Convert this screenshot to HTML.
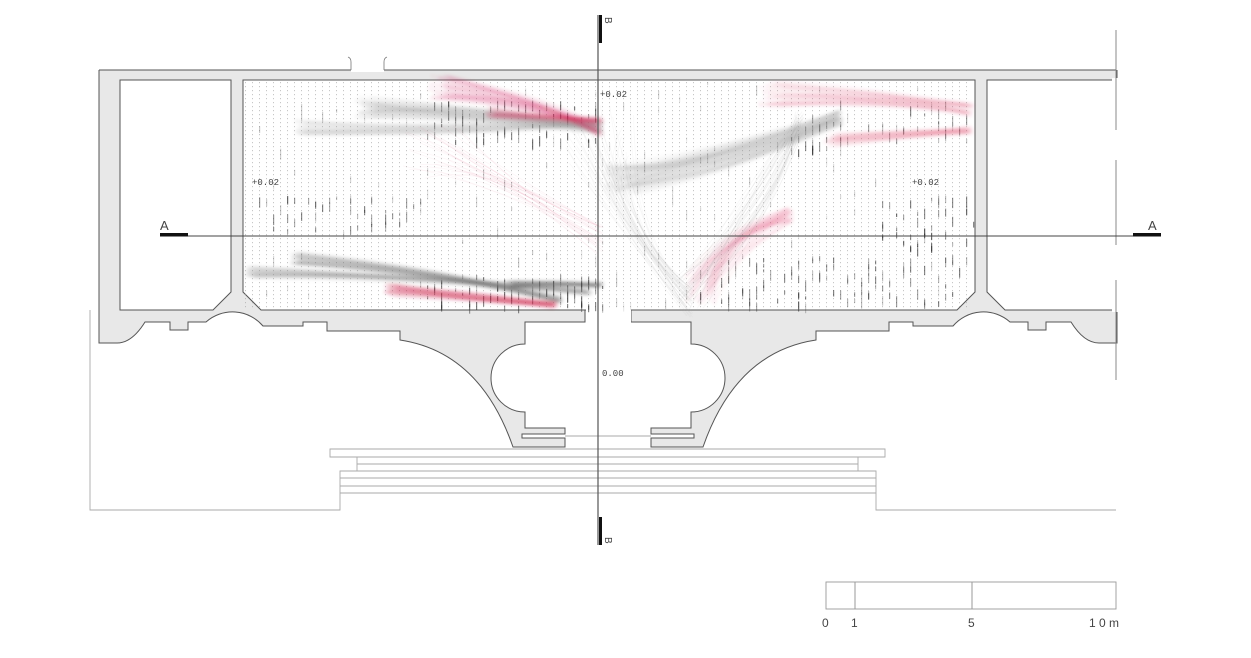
<!DOCTYPE html>
<html><head><meta charset="utf-8">
<style>
html,body{margin:0;padding:0;background:#fff;}
svg{display:block;}
text{font-family:"Liberation Mono",monospace;fill:#444;}
</style></head>
<body>
<svg id="s" width="1251" height="658" viewBox="0 0 1251 658" xmlns="http://www.w3.org/2000/svg">
<defs>
<pattern id="dots" x="245" y="82" width="7" height="4" patternUnits="userSpaceOnUse">
<rect x="0" y="0" width="1" height="1.2" fill="#9a9a9a"/>
</pattern>
<filter id="bl" x="-10%" y="-50%" width="120%" height="200%"><feGaussianBlur stdDeviation="1.6"/></filter>
<g id="half">
<path d="M99,70 L608,70 L608,310 L585,310 L585,322 L525,322 L525,344 A34,34 0 0 0 525,412 L525,428 L565,428 L565,434 L522,434 L522,438 L565,438 L565,447 L513,447 Q480,352 400,340 L400,331 L327,331 L327,322 L303,322 L303,326 L263,326 A40,40 0 0 0 206,322 L188,322 L188,330 L170,330 L170,322 L145,322 Q132,343 117,343 L99,343 Z" fill="#e8e8e8"/>
<path d="M99,70 L99,343 L117,343 Q132,343 145,322 L170,322 L170,330 L188,330 L188,322 L206,322 A40,40 0 0 1 263,326 L303,326 L303,322 L327,322 L327,331 L400,331 L400,340 Q480,352 513,447 L565,447 L565,438 L522,438 L522,434 L565,434 L565,428 L525,428 L525,412 A34,34 0 0 1 525,344 L525,322 L585,322 L585,310" fill="none" stroke="#555" stroke-width="1"/>
</g>
</defs>
<use href="#half"/>
<use href="#half" transform="translate(1216,0) scale(-1,1)"/>
<line x1="99" y1="70" x2="1116" y2="70" stroke="#555"/>
<rect x="351" y="69" width="33" height="3" fill="#fff"/>
<path d="M351,70 L351,62 Q351,58 348,57 M384,70 L384,62 Q384,58 387,57" stroke="#777" fill="none" stroke-width="0.8"/>
<path d="M120,80 L231,80 L231,292 L213,310 L120,310 Z" fill="#fff" stroke="#555"/>
<path d="M1117,80 L987,80 L987,292 L1005,310 L1117,310" fill="#fff" stroke="#555"/>
<rect x="1112" y="78" width="10" height="234" fill="#fff"/>
<path d="M243,80 L975,80 L975,292 L957,310 L261,310 L243,292 Z" fill="#fff" stroke="#555"/>
<rect x="245" y="82" width="728" height="226" fill="url(#dots)" opacity="0.55"/>
<rect x="586" y="309" width="45" height="15" fill="#fff"/>
<g id="marks"></g>
<g id="streaks" filter="url(#bl)"></g>
<g id="thin"></g>
<path d="M1116,30 L1116,130 M1116,160 L1116,245 M1116,280 L1116,380" stroke="#888" stroke-width="1"/>
<g stroke="#aaa" stroke-width="0.9" fill="none">
<path d="M90,310 L90,510 L340,510 L340,471 L357,471 L357,457 L330,457 L330,449 L885,449 L885,457 L858,457 L858,471 L876,471 L876,510 L1116,510"/>
<line x1="357" y1="464" x2="858" y2="464"/>
<line x1="340" y1="471" x2="876" y2="471"/>
<line x1="340" y1="478" x2="876" y2="478"/>
<line x1="340" y1="486" x2="876" y2="486"/>
<line x1="340" y1="493" x2="876" y2="493"/>
<line x1="357" y1="457" x2="858" y2="457"/>
<line x1="565" y1="436" x2="651" y2="436"/>
</g>
<line x1="160" y1="236" x2="1160" y2="236" stroke="#444" stroke-width="1"/>
<rect x="160" y="233" width="28" height="3.5" fill="#111"/>
<rect x="1133" y="233" width="28" height="3.5" fill="#111"/>
<text x="160" y="230" font-size="13" style="font-family:'Liberation Sans',sans-serif">A</text>
<text x="1148" y="230" font-size="13" style="font-family:'Liberation Sans',sans-serif">A</text>
<line x1="598" y1="15" x2="598" y2="545" stroke="#555" stroke-width="1.2"/>
<rect x="599" y="15" width="3" height="28" fill="#111"/>
<rect x="599" y="517" width="3" height="28" fill="#111"/>
<text x="0" y="0" font-size="10" transform="translate(605,17) rotate(90)" style="font-family:'Liberation Sans',sans-serif">B</text>
<text x="0" y="0" font-size="10" transform="translate(605,537) rotate(90)" style="font-family:'Liberation Sans',sans-serif">B</text>
<text x="600" y="97" font-size="9">+0.02</text>
<text x="252" y="185" font-size="9">+0.02</text>
<text x="912" y="185" font-size="9">+0.02</text>
<text x="602" y="376" font-size="9">0.00</text>
<rect x="826" y="582" width="290" height="27" fill="none" stroke="#999" stroke-width="0.9"/>
<line x1="855" y1="582" x2="855" y2="609" stroke="#999"/>
<line x1="972" y1="582" x2="972" y2="609" stroke="#999"/>
<text x="822" y="627" font-size="12" style="font-family:'Liberation Sans',sans-serif">0</text>
<text x="851" y="627" font-size="12" style="font-family:'Liberation Sans',sans-serif">1</text>
<text x="968" y="627" font-size="12" style="font-family:'Liberation Sans',sans-serif">5</text>
<text x="1089" y="627" font-size="12" style="font-family:'Liberation Sans',sans-serif">1 0 m</text>
</svg>
<script>
(function(){
var NS="http://www.w3.org/2000/svg";
var seed=7;function r(){seed=(seed*16807)%2147483647;return seed/2147483647;}
var st=document.getElementById("streaks"),th=document.getElementById("thin"),mk=document.getElementById("marks");
function bundle(g,x1,y1,x2,y2,spread,n,color,op,w,cx,cy){
 for(var i=0;i<n;i++){
  var p=document.createElementNS(NS,"path");
  var a=(r()-0.5)*spread,b=(r()-0.5)*spread,c=(r()-0.5)*spread;
  var d="M"+(x1+(r()-0.5)*spread)+","+(y1+a)+" Q"+(cx+c)+","+(cy+c)+" "+(x2+(r()-0.5)*8)+","+(y2+b*0.5);
  p.setAttribute("d",d);p.setAttribute("stroke",color);p.setAttribute("fill","none");
  p.setAttribute("stroke-width",w);p.setAttribute("stroke-opacity",op);g.appendChild(p);
 }
}
bundle(st,365,108,600,128,22,40,"#888",0.07,2.5,480,112);
bundle(st,300,128,600,122,14,30,"#999",0.06,2.5,450,132);
bundle(st,440,88,600,130,26,45,"#d0204f",0.06,2,540,100);
bundle(st,490,112,600,120,12,20,"#d0204f",0.1,2,545,120);
bundle(st,620,180,840,118,30,50,"#888",0.06,3,720,165);
bundle(st,770,95,970,110,26,40,"#d8406a",0.05,2,870,92);
bundle(st,830,140,970,130,14,30,"#d8406a",0.06,2,900,135);
bundle(st,700,290,790,215,30,40,"#d0204f",0.05,2,730,240);
bundle(th,690,290,800,120,40,40,"#aaa",0.08,0.8,760,200);
bundle(th,600,140,690,300,70,50,"#aaa",0.07,0.8,620,230);
bundle(th,430,150,600,240,60,30,"#d0204f",0.04,0.8,520,190);
bundle(st,250,272,590,292,12,35,"#888",0.07,2.5,420,276);
bundle(st,295,258,560,300,12,35,"#777",0.07,2.5,440,270);
bundle(st,390,290,555,305,14,40,"#d0204f",0.08,2,470,297);
bundle(st,510,285,600,285,8,15,"#555",0.12,2.5,555,283);
function mks(x0,x1,y0,y1,n,op){
 for(var i=0;i<n;i++){
  var x=x0+Math.round(r()*(x1-x0)/7)*7,y=y0+r()*(y1-y0);
  var l=document.createElementNS(NS,"rect");
  l.setAttribute("x",x);l.setAttribute("y",y);l.setAttribute("width",1.2);
  l.setAttribute("height",3+r()*8);l.setAttribute("fill","#333");l.setAttribute("opacity",op*(0.4+r()*0.6));
  mk.appendChild(l);
 }
}
mks(427,602,100,140,70,0.7);
mks(252,383,195,232,30,0.6);
mks(357,420,198,225,15,0.6);
mks(427,602,275,306,80,0.7);
mks(700,970,255,305,110,0.6);
mks(882,973,195,250,45,0.7);
mks(791,833,135,150,12,0.7);
mks(805,973,100,140,40,0.45);
mks(252,973,82,308,120,0.25);
})();
</script>
</body></html>
